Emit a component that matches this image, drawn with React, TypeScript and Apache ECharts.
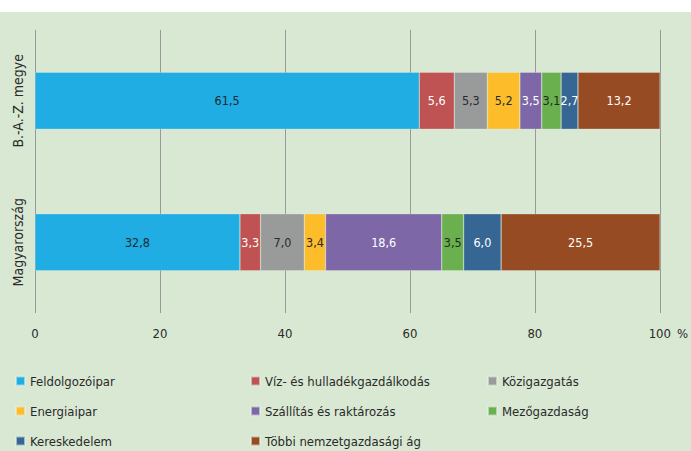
import React, { useEffect, useRef } from "react";
import * as echarts from "echarts";

const categories = ["B.-A.-Z. megye", "Magyarország"];
const seriesNames = [
  "Feldolgozóipar",
  "Víz- és hulladékgazdálkodás",
  "Közigazgatás",
  "Energiaipar",
  "Szállítás és raktározás",
  "Mezőgazdaság",
  "Kereskedelem",
  "Többi nemzetgazdasági ág",
];
const feldolgozoipar = [61.5, 32.8];
const vizHulladek = [5.6, 3.3];
const kozigazgatas = [5.3, 7.0];
const energiaipar = [5.2, 3.4];
const szallitas = [3.5, 18.6];
const mezogazdasag = [3.1, 3.5];
const kereskedelem = [2.7, 6.0];
const tobbi = [13.2, 25.5];
const xTicks = [0, 20, 40, 60, 80, 100];

const seriesData = [feldolgozoipar, vizHulladek, kozigazgatas, energiaipar, szallitas, mezogazdasag, kereskedelem, tobbi];
const colors = ["#1FADE4", "#BF5252", "#999A9A", "#FDBD2B", "#7E67A7", "#6AB04F", "#356694", "#974B22"];
const labelColors = ["#1e2a30", "#ffffff", "#2a2a2a", "#2a2a2a", "#ffffff", "#1e2a20", "#ffffff", "#ffffff"];

const FONT = "'DejaVu Sans Condensed', 'Liberation Sans Narrow', 'Roboto', sans-serif";

export default function App() {
  const ref = useRef<HTMLDivElement>(null);
  useEffect(() => {
    if (!ref.current) return;
    const chart = echarts.init(ref.current, null, { renderer: "svg" });
    const legendItem = (names: string[], left: number) => ({
      orient: "vertical",
      left,
      top: 357,
      height: 100,
      icon: "rect",
      itemWidth: 9,
      itemHeight: 9,
      itemGap: 16,
      selectedMode: false,
      data: names,
      textStyle: { fontFamily: FONT, fontSize: 13, color: "#2a2a2a", lineHeight: 14 },
    });
    chart.setOption({
      animation: false,
      backgroundColor: "#D9E8D3",
      textStyle: { fontFamily: FONT },
      grid: { left: 35, right: 25, top: 18, bottom: 138, containLabel: false },
      legend: [
        legendItem([seriesNames[0], seriesNames[3], seriesNames[6]], 10),
        legendItem([seriesNames[1], seriesNames[4], seriesNames[7]], 245),
        legendItem([seriesNames[2], seriesNames[5]], 482),
      ],
      xAxis: {
        type: "value",
        min: 0,
        max: 100,
        interval: 20,
        name: "%",
        nameLocation: "end",
        nameGap: 10,
        nameTextStyle: { fontFamily: FONT, fontSize: 13, color: "#2a2a2a", verticalAlign: "top", padding: [14, 0, 0, 0] },
        axisLine: { show: false },
        axisTick: { show: false },
        axisLabel: {
          margin: 14,
          fontFamily: FONT,
          fontSize: 13,
          color: "#2a2a2a",
          formatter: (v: number) => (xTicks.includes(v) ? String(v) : ""),
        },
        splitLine: { show: true, lineStyle: { color: "#999999", width: 1 } },
      },
      yAxis: {
        type: "category",
        data: categories,
        inverse: true,
        axisLine: { show: false },
        axisTick: { show: false },
        axisLabel: { rotate: 90, margin: 10, fontFamily: FONT, fontSize: 14, color: "#2a2a2a" },
      },
      series: seriesNames.map((name, i) => ({
        name,
        type: "bar",
        stack: "total",
        barWidth: 57,
        data: seriesData[i],
        itemStyle: { color: colors[i], borderColor: "rgba(230,240,230,0.6)", borderWidth: 0.5 },
        label: {
          show: true,
          position: "inside",
          fontFamily: FONT,
          fontSize: 12.5,
          color: labelColors[i],
          formatter: (p: any) => Number(p.value).toFixed(1).replace(".", ","),
        },
      })),
    });
    return () => chart.dispose();
  }, []);
  return (
    <div style={{ position: "absolute", left: 0, top: 0, width: 691, height: 451, background: "#ffffff" }}>
      <div ref={ref} style={{ position: "absolute", left: 0, top: 12, width: 691, height: 439 }} />
    </div>
  );
}
